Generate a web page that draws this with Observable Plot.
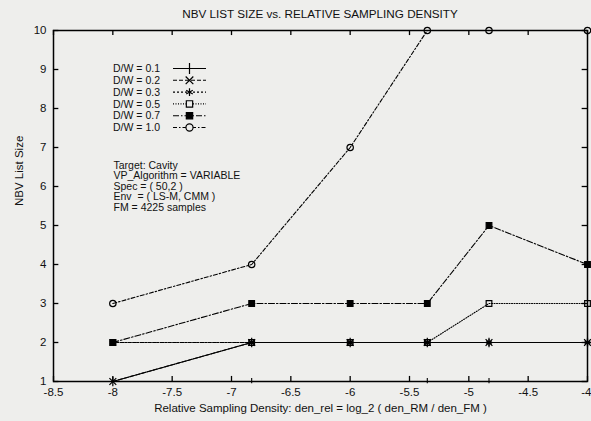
<!DOCTYPE html>
<html><head><meta charset="utf-8">
<script src="https://cdn.jsdelivr.net/npm/d3@7"></script>
<script src="https://cdn.jsdelivr.net/npm/@observablehq/plot@0.6"></script>
<style>
body{margin:0;background:#eeeeec;font-family:"Liberation Sans",Arial,sans-serif;}
#wrap{position:relative;width:591px;height:421px;}
#title{height:22px;line-height:28px;font-size:11.7px;text-align:center;width:534px;margin-left:53px;color:#111;}
#overlay{position:absolute;left:0;top:0;pointer-events:none;}
</style>
</head><body>
<div id="wrap"><div id="title">NBV LIST SIZE vs. RELATIVE SAMPLING DENSITY</div><div id="chart"></div></div>
<script>
const densities = [-8, -6.83, -6, -5.35, -4.83, -4];
const seriesNames = ["D/W = 0.1","D/W = 0.2","D/W = 0.3","D/W = 0.5","D/W = 0.7","D/W = 1.0"];
const dw01 = [1, 2, 2, 2, 2, 2];
const dw02 = [1, 2, 2, 2, 2, 2];
const dw03 = [2, 2, 2, 2, 2, 2];
const dw05 = [2, 2, 2, 2, 3, 3];
const dw07 = [2, 3, 3, 3, 5, 4];
const dw10 = [3, 4, 7, 10, 10, 10];
const xTicks = [-8.5, -8, -7.5, -7, -6.5, -6, -5.5, -5, -4.5, -4];
const yTicks = [1, 2, 3, 4, 5, 6, 7, 8, 9, 10];
const xLabel = "Relative Sampling Density: den_rel = log_2 ( den_RM / den_FM )";
const yLabel = "NBV List Size";
const annotation = ["Target: Cavity", "VP_Algorithm = VARIABLE", "Spec = ( 50,2 )", "Env  = ( LS-M, CMM )", "FM = 4225 samples"];

const allSeries = [dw01, dw02, dw03, dw05, dw07, dw10];
const dashes = [null, "4,2", "2,2", "1,1.5", "6,2,1.5,2", "4,2,1.5,2"];
const symbols = ["plus", "times", "asterisk", "square", "square", "circle"];
const fills = ["none", "none", "none", "none", "black", "none"];
const d3sym = [d3.symbolPlus, d3.symbolTimes, d3.symbolAsterisk, d3.symbolSquare, d3.symbolSquare, d3.symbolCircle];

const rows = [];
allSeries.forEach((vals, i) => vals.forEach((v, j) => rows.push({s: seriesNames[i], i, x: densities[j], y: v})));

const yMin = yTicks[0], yMax = yTicks[yTicks.length - 1];
const xMin = xTicks[0], xMax = xTicks[xTicks.length - 1];
const marks = [];
marks.push(Plot.ruleX(xTicks, {x: d => d, y1: yMin, y2: yMin + 0.13, stroke: "black", strokeWidth: 1.3}));
marks.push(Plot.ruleX(xTicks, {x: d => d, y1: yMax, y2: yMax - 0.13, stroke: "black", strokeWidth: 1.3}));
marks.push(Plot.ruleX(densities.filter(d => !xTicks.includes(d)), {x: d => d, y1: yMin - 0.06, y2: yMin + 0.08, stroke: "black", strokeWidth: 1.1}));
marks.push(Plot.ruleY(yTicks, {y: d => d, x1: xMin, x2: xMin + 0.045, stroke: "black", strokeWidth: 1.3}));
marks.push(Plot.ruleY(yTicks, {y: d => d, x1: xMax, x2: xMax - 0.045, stroke: "black", strokeWidth: 1.3}));
allSeries.forEach((vals, i) => {
  const data = rows.filter(r => r.i === i);
  marks.push(Plot.line(data, {x: "x", y: "y", stroke: "black", strokeWidth: 1.1, strokeDasharray: dashes[i]}));
  marks.push(Plot.dot(data, {x: "x", y: "y", symbol: () => symbols[i], r: 3.2, stroke: "black", fill: fills[i], strokeWidth: 1.2}));
});
// x tick labels (last one kept inside the page)
marks.push(Plot.text(xTicks.slice(0, -1), {x: d => d, y: () => yMin, text: d => String(d), dy: 11, lineAnchor: "middle", fontSize: 11.5, fill: "#111"}));
marks.push(Plot.text(xTicks.slice(-1), {x: d => d, y: () => yMin, text: d => String(d), dy: 11, dx: 4, textAnchor: "end", lineAnchor: "middle", fontSize: 11.5, fill: "#111"}));
marks.push(Plot.text([annotation.join("\n")], {text: d => d, frameAnchor: "top-left", dx: 60, dy: 131, lineAnchor: "top", textAnchor: "start", fontSize: 10.5, lineHeight: 1.0, fill: "#111"}));
marks.push(Plot.text([xLabel], {text: d => d, frameAnchor: "bottom", dy: 30, fontSize: 11.5, fill: "#111"}));
marks.push(Plot.text([yLabel], {text: d => d, frameAnchor: "left", dx: -34, rotate: -90, fontSize: 11.5, fill: "#111"}));
marks.push(Plot.frame({stroke: "black", strokeWidth: 1.5}));

const chart = Plot.plot({
  width: 591, height: 399,
  marginTop: 8, marginBottom: 40, marginLeft: 53, marginRight: 4,
  style: {background: "transparent", fontFamily: "Liberation Sans, Arial, sans-serif", fontSize: "11.5px", color: "#111"},
  x: {domain: [xMin, xMax], axis: null},
  y: {domain: [yMin, yMax], ticks: yTicks, tickSize: 0, tickPadding: 7, tickFormat: d => String(d), label: null},
  marks
});
document.getElementById("chart").appendChild(chart);

const ov = d3.select("#wrap").append("svg").attr("id", "overlay").attr("width", 591).attr("height", 421)
  .style("font-family", "Liberation Sans, Arial, sans-serif");
seriesNames.forEach((name, i) => {
  const y = 68.5 + i * 11.8;
  ov.append("text").attr("x", 113).attr("y", y).attr("dy", "0.35em").attr("font-size", 10.5).attr("fill", "#111").text(name);
  ov.append("line").attr("x1", 173).attr("x2", 206).attr("y1", y).attr("y2", y).attr("stroke", "black").attr("stroke-width", 1.1)
    .attr("stroke-dasharray", dashes[i]);
  ov.append("path").attr("d", d3.symbol(d3sym[i], 40)()).attr("transform", `translate(189.5,${y})`)
    .attr("stroke", "black").attr("stroke-width", 1.2).attr("fill", fills[i] === "none" ? "#eeeeec" : "black");
});
</script>
</body></html>
